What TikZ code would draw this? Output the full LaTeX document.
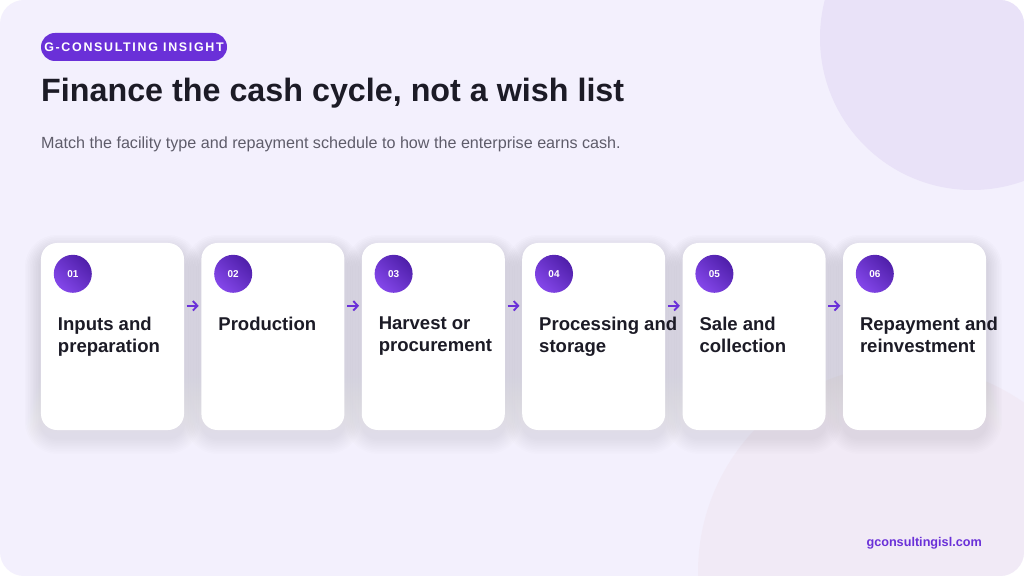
\documentclass[tikz,border=0pt]{standalone}
\usepackage{fontspec}
\setmainfont{Liberation Sans}
\newfontfamily\spacedfont[LetterSpace=13.5]{Liberation Sans}
\usetikzlibrary{positioning,arrows.meta}
\definecolor{pagebg}{HTML}{F3F0FD}
\definecolor{blobA}{HTML}{E9E2F8}
\definecolor{blobB}{HTML}{F1E8F4}
\definecolor{brand}{HTML}{6A30D8}
\definecolor{brandlight}{HTML}{8447EA}
\definecolor{branddark}{HTML}{4F1FAA}
\definecolor{ink}{HTML}{1C1B26}
\definecolor{muted}{HTML}{5E5C6A}
\definecolor{shade}{HTML}{B3A6E8}
\tikzset{
	stagecard/.style={draw=none, fill=white, rounded corners=16bp, minimum width=143bp, minimum height=187bp, inner sep=0},
	stagenum/.style={circle, minimum size=38bp, inner sep=0, text=white, font=\bfseries\fontsize{10}{10}\selectfont, left color=brandlight, right color=branddark, shading angle=135},
	stagetitle/.style={anchor=north west, align=left, inner sep=0, text=ink, font=\bfseries\fontsize{18.6}{22}\selectfont},
	flow/.style={draw=brand, line width=1.9bp, -{Straight Barb[length=4.5bp, width=9.5bp]}, shorten <=2.5bp, shorten >=2.5bp}
}
\begin{document}
\begin{tikzpicture}[x=1bp, y=-1bp]
	\useasboundingbox (0,0) rectangle (1024,576);
	\fill[white] (0,0) rectangle (1024,576);
	\begin{scope}
		\clip[rounded corners=24bp] (0,0) rectangle (1024,576);
		\fill[pagebg] (0,0) rectangle (1024,576);
		\fill[blobA] (972,38) circle[radius=152];
		\fill[blobB, opacity=0.7] (905,572) circle[radius=207];
	\end{scope}
	% header
	\node[fill=brand, rounded corners=14bp, minimum width=186bp, minimum height=28bp, inner sep=0, text=white, font=\spacedfont\bfseries\fontsize{12.5}{12.5}\selectfont] (badge) at (134,47) {G-CONSULTING INSIGHT};
	\node[anchor=base west, inner sep=0, text=ink, font=\bfseries\fontsize{32.4}{32.4}\selectfont] (headline) at (41,102) {Finance the cash cycle, not a wish list};
	\node[anchor=base west, inner sep=0, text=muted, font=\fontsize{16.2}{16.2}\selectfont] (subline) at (41,149) {Match the facility type and repayment schedule to how the enterprise earns cash.};
	% stages
	\foreach \i/\lbl in {1/{Inputs and\\preparation}, 2/{Production}, 3/{Harvest or\\procurement}, 4/{Processing and\\storage}, 5/{Sale and\\collection}, 6/{Repayment and\\reinvestment}} {
		\pgfmathsetmacro{\cx}{112.5+160.4*(\i-1)}
		\foreach \k in {1,...,10}
			\fill[shade, opacity=0.007, rounded corners=16bp+1.6*\k bp] (\cx-71.5-1.6*\k, 243-1.6*\k+8) rectangle (\cx+71.5+1.6*\k, 430+1.6*\k+8);
		\node[stagecard] (c\i) at (\cx,336.5) {};
		\node[stagenum] (n\i) at ([xshift=32bp, yshift=-31bp]c\i.north west) {0\i};
		\node[stagetitle] (t\i) at ([xshift=17bp, yshift=-74bp]c\i.north west) {\lbl};
	}
	\foreach \i [evaluate=\i as \j using int(\i+1)] in {1,...,5}
		\draw[flow] ([yshift=-63bp]c\i.north east) -- ([yshift=-63bp]c\j.north west);
	% footer
	\node[anchor=base east, inner sep=0, text=brand, font=\bfseries\fontsize{12.7}{12.7}\selectfont] (site) at (982,546) {gconsultingisl.com};
\end{tikzpicture}
\end{document}
